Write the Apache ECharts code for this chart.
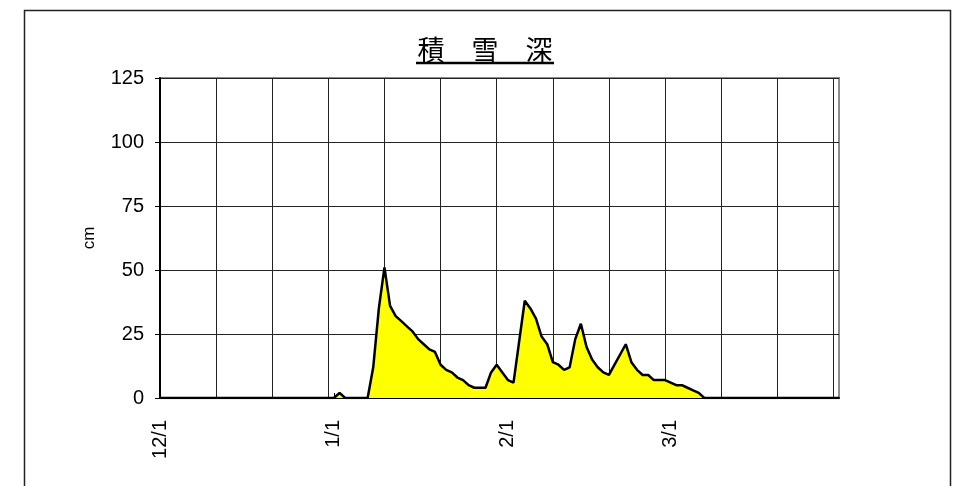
<!DOCTYPE html>
<html>
<head>
<meta charset="utf-8">
<script src="https://cdn.jsdelivr.net/npm/echarts@6/dist/echarts.min.js"></script>
<style>
html,body{margin:0;padding:0;background:#fff;}
#chart{width:966px;height:486px;}
</style>
</head>
<body>
<div id="chart"></div>
<script>
// Month lengths for the season Dec–Mar (leap year February)
var monthNames = [12, 1, 2, 3];
var monthDays = [31, 31, 29, 31];
var categories = [];
for (var m = 0; m < monthNames.length; m++) {
  for (var d = 1; d <= monthDays[m]; d++) categories.push(monthNames[m] + '/' + d);
}
var labelDates = ['12/1', '1/1', '2/1', '3/1'];
var yTicks = [0, 25, 50, 75, 100, 125];

// Snow depth (cm), one value per day from 12/1 to 3/31
var snowDec = [0,0,0,0,0,0,0,0,0,0, 0,0,0,0,0,0,0,0,0,0, 0,0,0,0,0,0,0,0,0,0, 0];
var snowJan = [0,2,0,0,0,0,0,12,35,51, 36,32,30,28,26,23,21,19,18,13, 11,10,8,7,5,4,4,4,10,13, 10];
var snowFeb = [7,6,22,38,35,31,24,21,14,13, 11,12,23,29,20,15,12,10,9,13, 17,21,14,11,9,9,7,7,7];
var snowMar = [6,5,5,4,3,2,0,0,0,0, 0,0,0,0,0,0,0,0,0,0, 0,0,0,0,0,0,0,0,0,0, 0];
var snowDepth = snowDec.concat(snowJan, snowFeb, snowMar);

var chart = echarts.init(document.getElementById('chart'));
var numFont = "'Liberation Sans', Arial, sans-serif";
chart.setOption({
  animation: false,
  backgroundColor: '#fff',
  textStyle: { fontFamily: numFont },
  graphic: [
    { type: 'rect', left: 22, top: 8, z: 0, silent: true,
      shape: { width: 926, height: 500 },
      style: { fill: 'none', stroke: '#222', lineWidth: 1.5 } },
    { type: 'text', x: 485, y: 36, z: 10, silent: true,
      style: { text: '積　雪　深', fill: '#000', font: "27px 'Noto Sans CJK JP'", textAlign: 'center', textVerticalAlign: 'top' } },
    { type: 'line', z: 10, silent: true,
      shape: { x1: 416, y1: 63, x2: 554, y2: 63 },
      style: { stroke: '#000', lineWidth: 2.5 } }
  ],
  grid: {
    left: 160, right: 127, top: 78, bottom: 88,
    show: true, borderColor: '#8c8c8c', borderWidth: 2, backgroundColor: 'transparent'
  },
  xAxis: {
    type: 'category',
    data: categories,
    boundaryGap: false,
    axisLine: { show: true, lineStyle: { color: '#000', width: 2 } },
    axisTick: { show: true, inside: true, length: 5, lineStyle: { color: '#000' },
      interval: function (i, v) { return labelDates.indexOf(v) >= 0; } },
    axisLabel: { show: true, rotate: 90, margin: 22, fontSize: 20, color: '#000', fontFamily: numFont,
      interval: function (i, v) { return labelDates.indexOf(v) >= 0; } },
    splitLine: { show: true, lineStyle: { color: '#222', width: 1 },
      interval: function (i) { return i % 10 === 0; } }
  },
  yAxis: {
    type: 'value',
    min: yTicks[0], max: yTicks[yTicks.length - 1], interval: 25,
    name: 'cm', nameLocation: 'middle', nameGap: 62, nameRotate: 90,
    nameTextStyle: { fontSize: 17, color: '#000', fontFamily: numFont },
    axisLine: { show: true, lineStyle: { color: '#000', width: 2 } },
    axisTick: { show: true, inside: false, length: 5, lineStyle: { color: '#000' } },
    axisLabel: { fontSize: 20, color: '#000', margin: 16, fontFamily: numFont },
    splitLine: { show: true, lineStyle: { color: '#222', width: 1 } }
  },
  series: [{
    type: 'line',
    data: snowDepth,
    showSymbol: false,
    symbol: 'none',
    lineStyle: { color: '#000', width: 2.5 },
    areaStyle: { color: '#ffff00', opacity: 1 },
    z: 3
  }]
});
</script>
</body>
</html>
